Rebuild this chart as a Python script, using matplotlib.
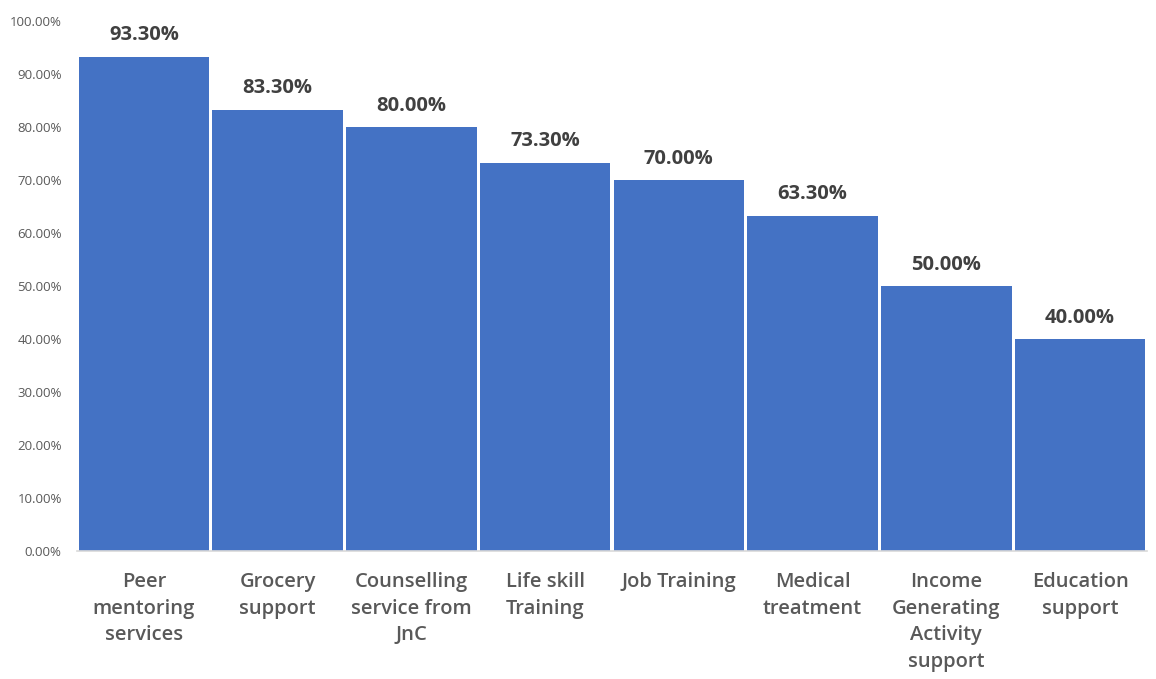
import matplotlib.pyplot as plt
from matplotlib.ticker import FuncFormatter

categories = [
    "Peer\nmentoring\nservices",
    "Grocery\nsupport",
    "Counselling\nservice from\nJnC",
    "Life skill\nTraining",
    "Job Training",
    "Medical\ntreatment",
    "Income\nGenerating\nActivity\nsupport",
    "Education\nsupport",
]
values = [93.3, 83.3, 80.0, 73.3, 70.0, 63.3, 50.0, 40.0]

plt.rcParams['font.family'] = ['Open Sans', 'DejaVu Sans']

fig = plt.figure(figsize=(11.56, 6.79), dpi=100)
ax = fig.add_axes([0.0666, 0.1885, 0.9256, 0.7805])

x = range(len(values))
bars = ax.bar(x, values, width=0.975, color='#4472C4', edgecolor='none')

for b, v in zip(bars, values):
    ax.annotate(f"{v:.2f}%", (b.get_x() + b.get_width() / 2, v),
                xytext=(0, 8), textcoords='offset points',
                ha='center', va='bottom', fontsize=14.5, fontweight='bold',
                color='#404040')

ax.set_xlim(-0.5, len(values) - 0.5)
ax.set_ylim(0, 100)
ax.set_yticks(range(0, 101, 10))
ax.yaxis.set_major_formatter(FuncFormatter(lambda v, p: f"{v:.2f}%"))
ax.set_xticks(list(x))
ax.set_xticklabels(categories, fontsize=14.5, fontweight='semibold',
                   color='#595959', linespacing=1.45)

for s in ['top', 'right', 'left']:
    ax.spines[s].set_visible(False)
ax.spines['bottom'].set_color('#D9D9D9')
ax.spines['bottom'].set_linewidth(1.2)
ax.tick_params(axis='y', length=0, labelsize=9.5, labelcolor='#595959', pad=11)
ax.tick_params(axis='x', length=0, pad=15)

fig.savefig('out.png', dpi=100)
